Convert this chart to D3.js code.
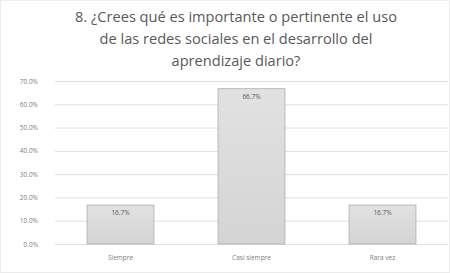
<!DOCTYPE html>
<html>
<head>
<meta charset="utf-8">
<script src="https://cdn.jsdelivr.net/npm/d3@7"></script>
<style>
  body { margin: 0; background: #fff; }
  svg { display: block; }
</style>
</head>
<body>
<script>
const titleLines = [
  "8. ¿Crees qué es importante o pertinente el uso",
  "de las redes sociales en el desarrollo del",
  "aprendizaje diario?"
];
const categories = ["Siempre", "Casi siempre", "Rara vez"];
const values = [0.167, 0.667, 0.167];
const yTicks = [0, 0.1, 0.2, 0.3, 0.4, 0.5, 0.6, 0.7];

const W = 450, H = 273;
const margin = {top: 81, right: 2, bottom: 29, left: 55};
const font = "'Open Sans', Lato, sans-serif";

const svg = d3.select("body").append("svg")
    .attr("width", W)
    .attr("height", H);

svg.append("rect")
  .attr("x", 0.5).attr("y", 0.5)
  .attr("width", W - 1).attr("height", H - 1)
  .attr("fill", "#fff")
  .attr("stroke", "#ececec");

// title
svg.append("g")
  .selectAll("text")
  .data(titleLines)
  .enter().append("text")
  .attr("x", W / 2 + 11)
  .attr("y", (d, i) => 22 + i * 22)
  .attr("text-anchor", "middle")
  .style("font-family", font)
  .style("font-size", "14.6px")
  .style("fill", "#595959")
  .text(d => d);

const xScale = d3.scaleBand()
    .domain(categories)
    .range([margin.left, W - margin.right])
    .paddingInner(0.49)
    .paddingOuter(0.245);

const yScale = d3.scaleLinear()
    .domain([0, 0.7])
    .range([H - margin.bottom, margin.top]);

// grid
svg.append("g")
  .attr("class", "grid")
  .attr("transform", `translate(${margin.left},0)`)
  .call(d3.axisLeft(yScale)
        .tickValues(yTicks)
        .tickSize(-(W - margin.left - margin.right))
        .tickFormat(""))
  .call(g => g.select(".domain").remove())
  .call(g => g.selectAll("line").attr("stroke", "#e0e0e0"));

// y labels
svg.append("g")
  .attr("transform", `translate(${margin.left - 14},0)`)
  .call(d3.axisLeft(yScale)
        .tickValues(yTicks)
        .tickSize(0)
        .tickFormat(d3.format(".1%")))
  .call(g => g.select(".domain").remove())
  .call(g => g.selectAll("text")
        .style("font-family", font)
        .style("font-size", "6.5px")
        .style("fill", "#808080"));

const grad = svg.append("defs").append("linearGradient")
    .attr("id", "barGrad")
    .attr("x1", 0).attr("x2", 0).attr("y1", 0).attr("y2", 1);
grad.append("stop").attr("offset", 0).attr("stop-color", "#e2e2e2");
grad.append("stop").attr("offset", 1).attr("stop-color", "#d4d4d4");

const data = categories.map((c, i) => ({cat: c, value: values[i]}));

svg.append("g")
  .selectAll("rect")
  .data(data)
  .enter().append("rect")
  .attr("x", d => xScale(d.cat))
  .attr("y", d => yScale(d.value))
  .attr("width", xScale.bandwidth())
  .attr("height", d => yScale(0) - yScale(d.value))
  .attr("fill", "url(#barGrad)")
  .attr("stroke", "#b7b7b7")
  .attr("stroke-width", 1);

// value labels
svg.append("g")
  .selectAll("text")
  .data(data)
  .enter().append("text")
  .attr("x", d => xScale(d.cat) + xScale.bandwidth() / 2)
  .attr("y", d => yScale(d.value) + 10)
  .attr("text-anchor", "middle")
  .style("font-family", font)
  .style("font-size", "6.5px")
  .style("fill", "#595959")
  .text(d => d3.format(".1%")(d.value));

// x labels
svg.append("g")
  .attr("transform", `translate(0,${yScale(0)})`)
  .call(d3.axisBottom(xScale).tickSize(0).tickPadding(11))
  .call(g => g.select(".domain").remove())
  .call(g => g.selectAll("text")
        .style("font-family", font)
        .style("font-size", "6.5px")
        .style("fill", "#808080"));
</script>
</body>
</html>
